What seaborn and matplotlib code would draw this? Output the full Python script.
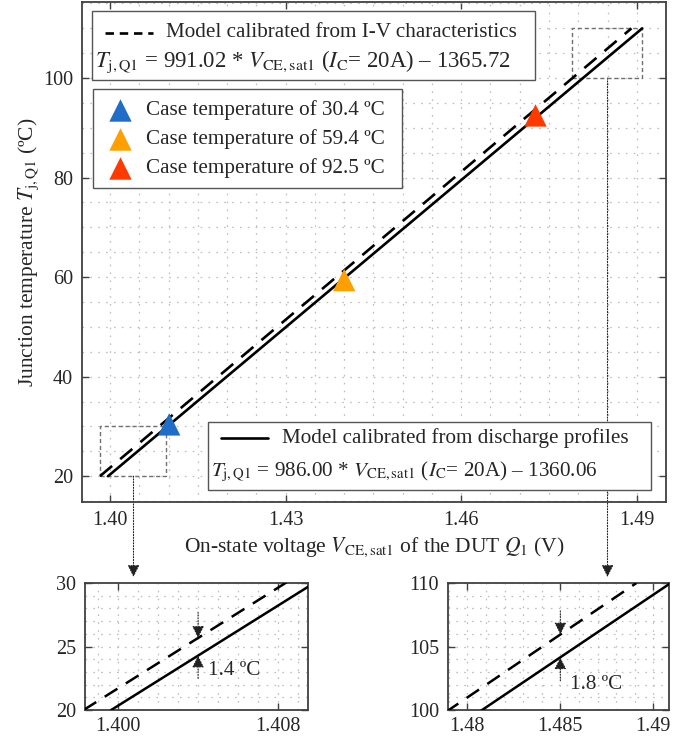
import numpy as np
import pandas as pd
import matplotlib
matplotlib.use('Agg')
import matplotlib.pyplot as plt
from matplotlib.patches import Rectangle
from matplotlib.ticker import MultipleLocator
import seaborn as sns


# model coefficients, T = slope * V + intercept
iv_slope, iv_icpt = 991.02, -1365.72
dis_slope, dis_icpt = 986.00, -1360.06
temp_range = [20, 110]

# measured points
case_labels = ['Case temperature of 30.4 ºC', 'Case temperature of 59.4 ºC',
               'Case temperature of 92.5 ºC']
meas_vce = [1.4101, 1.4400, 1.4727]
meas_tj = [30.4, 59.4, 92.5]
case_colors = ['#1f6dc6', '#ff9f00', '#ff3a00']

# zoom windows (x range, y range) and where the gap is marked
zoom1_x, zoom1_y, gap1_v = (1.39835, 1.40949), (20, 30), 1.404
zoom2_x, zoom2_y, gap2_v = (1.47896, 1.49084), (100, 110), 1.485

eq_iv = r'$T_{\mathrm{j,Q1}}$ = 991.02 * $V_{\mathrm{CE,sat1}}$ ($I_{\mathrm{C}}$= 20A) – 1365.72'
eq_dis = r'$T_{\mathrm{j,Q1}}$ = 986.00 * $V_{\mathrm{CE,sat1}}$ ($I_{\mathrm{C}}$= 20A) – 1360.06'


sns.set_style('ticks')
plt.rcParams['font.family'] = ['Liberation Serif', 'DejaVu Serif']
plt.rcParams['mathtext.fontset'] = 'stix'
FS = 15.2       # legend / annotation text
FS_TICK = 14.5
FS_LAB = 15.5
SPINE = '#404040'

lines = pd.DataFrame({
    'T': temp_range * 2,
    'V': [(t - iv_icpt) / iv_slope for t in temp_range] +
         [(t - dis_icpt) / dis_slope for t in temp_range],
    'model': ['iv'] * 2 + ['dis'] * 2,
})
iv_df = lines[lines.model == 'iv']
dis_df = lines[lines.model == 'dis']


def style_axes(ax, xminor, yminor):
    ax.xaxis.set_minor_locator(MultipleLocator(xminor))
    ax.yaxis.set_minor_locator(MultipleLocator(yminor))
    ax.grid(True, which='both', color='#bdbdbd', lw=0.9, ls=(0, (1.3, 5)))
    ax.set_axisbelow(True)
    ax.tick_params(which='major', direction='in', length=5, width=1, color=SPINE,
                   top=True, right=True, labelsize=FS_TICK, pad=6.5)
    ax.tick_params(which='minor', length=0)
    for s in ax.spines.values():
        s.set_color(SPINE)
        s.set_linewidth(1.3)


def draw_models(ax, lw):
    sns.lineplot(data=iv_df, x='V', y='T', ax=ax, color='k', lw=lw,
                 ls=(0, (6, 4)), sort=False, zorder=3)
    sns.lineplot(data=dis_df, x='V', y='T', ax=ax, color='k', lw=lw,
                 sort=False, zorder=3)


fig = plt.figure(figsize=(6.85, 7.39), dpi=100)
ax = fig.add_axes([0.1197, 0.3207, 0.8526, 0.6766])

draw_models(ax, 1.9)
sns.scatterplot(x=meas_vce, y=meas_tj, hue=case_labels, palette=case_colors,
                marker='^', s=260, linewidth=0, legend=False, ax=ax, zorder=4)

ax.set_xlim(1.3952, 1.4950)
ax.set_ylim(14.8, 115.3)
ax.set_xticks([1.40, 1.43, 1.46, 1.49])
ax.set_xticklabels(['1.40', '1.43', '1.46', '1.49'])
ax.set_yticks([20, 40, 60, 80, 100])
style_axes(ax, 0.005, 5)
ax.set_xlabel(r'On-state voltage $V_{\mathrm{CE,sat1}}$ of the DUT $Q_{\mathrm{1}}$ (V)',
              fontsize=FS_LAB, labelpad=4)
ax.set_ylabel(r'Junction temperature $T_{\mathrm{j,Q1}}$ (ºC)', fontsize=FS_LAB, labelpad=1)

# dashed zoom rectangles
for zx, zy in [(zoom1_x, zoom1_y), (zoom2_x, zoom2_y)]:
    ax.add_patch(Rectangle((zx[0], zy[0]), zx[1] - zx[0], zy[1] - zy[0],
                           fill=False, ec='#707070', lw=1.0, ls=(0, (3, 2)), zorder=2))

# arrows down to the insets
arrow_y = 0.2192
for xv, yv in [(gap1_v, zoom1_y[0]), (gap2_v, zoom2_y[0])]:
    ax.annotate('', xy=(xv, arrow_y), xycoords=('data', 'figure fraction'),
                xytext=(xv, yv), textcoords='data', annotation_clip=False,
                arrowprops=dict(arrowstyle='-|>,head_length=0.6,head_width=0.3',
                                ls=(0, (1, 1.5)), lw=0.8, color='#222222',
                                shrinkA=0, shrinkB=0, mutation_scale=12),
                zorder=1)


def box(x0, y0, x1, y1):
    ax.add_patch(Rectangle((x0, y0), x1 - x0, y1 - y0, transform=ax.transAxes,
                           fc='white', ec='#555555', lw=1.0, zorder=6, clip_on=False))


def label(x, y, s, fs=FS):
    ax.text(x, y, s, transform=ax.transAxes, fontsize=fs, va='center', ha='left', zorder=7)


# legend box 1
box(0.0171, 0.844, 0.7757, 0.982)
ax.plot([0.0394, 0.1216], [0.938, 0.938], transform=ax.transAxes, color='k', lw=1.9,
        ls=(0, (3.2, 2.2)), zorder=7)
label(0.1438, 0.938, 'Model calibrated from I-V characteristics')
label(0.0223, 0.8806, eq_iv, fs=16.4)

# legend box 2
box(0.0188, 0.628, 0.548, 0.826)
for yy, lab, col in zip([0.784, 0.7254, 0.6674], case_labels, case_colors):
    ax.scatter([0.065], [yy], transform=ax.transAxes, marker='^', s=260, color=col,
               linewidth=0, zorder=7)
    label(0.109, yy, lab)

# legend box 3
box(0.2158, 0.024, 0.9743, 0.160)
ax.plot([0.2375, 0.319], [0.1274, 0.1274], transform=ax.transAxes, color='k', lw=1.9,
        zorder=7)
label(0.342, 0.1274, 'Model calibrated from discharge profiles')
label(0.2204, 0.0606, eq_dis)


# insets
def inset(rect, zx, zy, xt, xtl, yt, gap_v, top, bot, txt_pos, txt):
    ia = fig.add_axes(rect)
    draw_models(ia, 1.8)
    ia.set_xlim(*zx)
    ia.set_ylim(*zy)
    ia.set_xticks(xt)
    ia.set_xticklabels(xtl)
    ia.set_yticks(yt)
    ia.set_xlabel('')
    ia.set_ylabel('')
    style_axes(ia, 0.001, 1)
    ia.tick_params(axis='x', pad=5)
    t_iv = iv_slope * gap_v + iv_icpt
    t_dis = dis_slope * gap_v + dis_icpt
    ap = dict(arrowstyle='-|>,head_length=0.6,head_width=0.3', ls=(0, (1, 1.5)),
              lw=0.8, color='#222222', shrinkA=0, shrinkB=0, mutation_scale=12)
    ia.annotate('', xy=(gap_v, t_iv), xytext=(gap_v, top), arrowprops=ap, zorder=4)
    ia.annotate('', xy=(gap_v, t_dis), xytext=(gap_v, bot), arrowprops=ap, zorder=4)
    ia.text(txt_pos[0], txt_pos[1], txt, fontsize=FS, va='center', ha='left')
    return ia


inset([0.1241, 0.0392, 0.3255, 0.1719], zoom1_x, zoom1_y, [1.400, 1.408],
      ['1.400', '1.408'], [20, 25, 30], gap1_v, 27.7, 22.5, (1.4045, 23.1), '1.4 ºC')
inset([0.6540, 0.0392, 0.3226, 0.1719], zoom2_x, zoom2_y, [1.48, 1.485, 1.49],
      ['1.48', '1.485', '1.49'], [100, 105, 110], gap2_v, 107.8, 102.3,
      (1.4855, 102.0), '1.8 ºC')

fig.savefig('out.png', dpi=100)
